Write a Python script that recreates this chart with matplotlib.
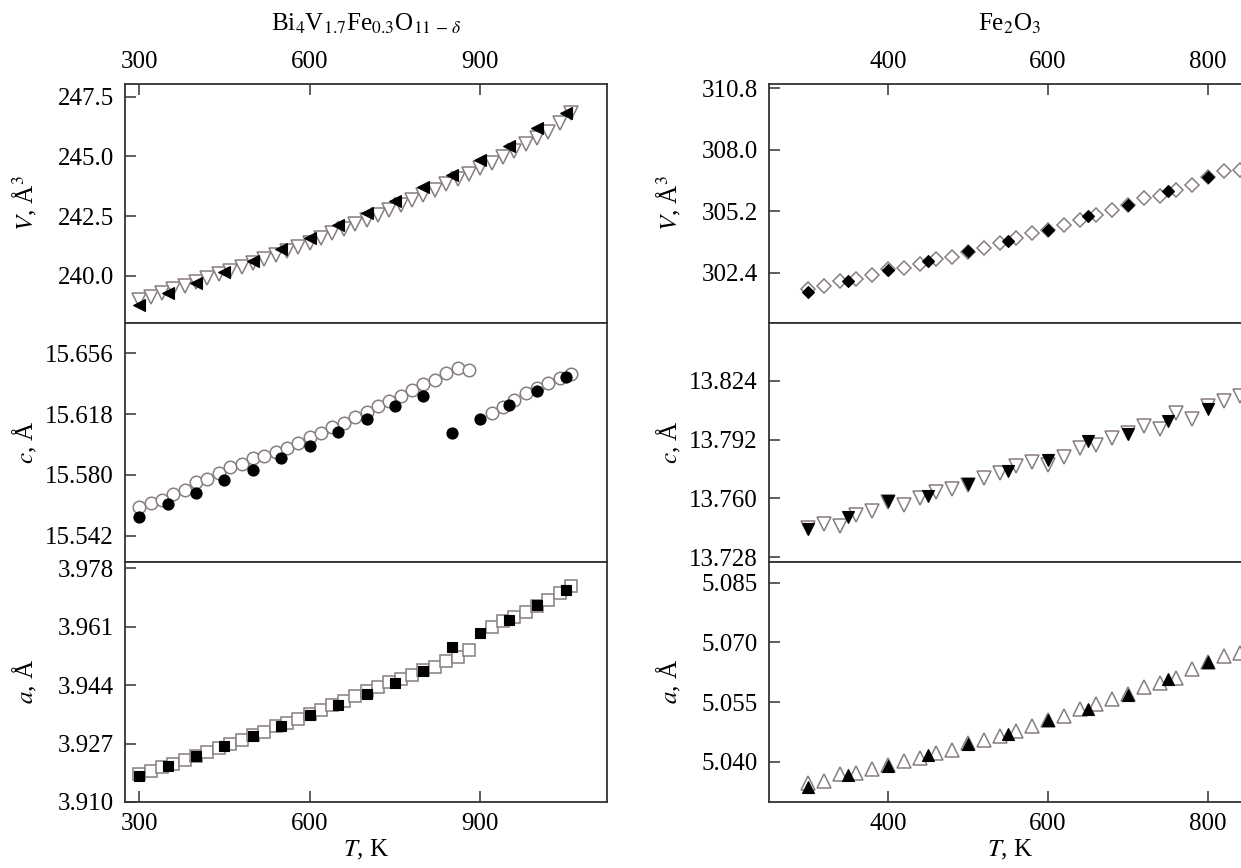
import numpy as np
import matplotlib
matplotlib.use("Agg")
import matplotlib.pyplot as plt

plt.rcParams['font.family'] = ['Liberation Serif', 'DejaVu Serif']
plt.rcParams['mathtext.fontset'] = 'stix'

# ---- Bi4V1.7Fe0.3O11-d (left column) ----
t_bi_fill = [300, 350, 400, 450, 500, 550, 600, 650, 700, 750, 800, 850, 900, 950, 1000, 1050]
t_bi_open_v = [300, 320, 340, 360, 380, 400, 420, 440, 460, 480, 500, 520, 540, 560, 580, 600,
               620, 640, 660, 680, 700, 720, 740, 760, 780, 800, 820, 840, 860, 880, 900, 920,
               940, 960, 980, 1000, 1020, 1040, 1060]
t_bi_open = [300, 320, 340, 360, 380, 400, 420, 440, 460, 480, 500, 520, 540, 560, 580, 600,
             620, 640, 660, 680, 700, 720, 740, 760, 780, 800, 820, 840, 860, 880,
             920, 940, 960, 980, 1000, 1020, 1040, 1060]

v_bi_fill = [238.77, 239.26, 239.71, 240.17, 240.63, 241.10, 241.56, 242.12, 242.61, 243.13,
             243.70, 244.22, 244.85, 245.45, 246.17, 246.80]
v_bi_open = [238.98, 239.12, 239.29, 239.43, 239.58, 239.75, 239.89, 240.06, 240.21, 240.38,
             240.52, 240.68, 240.87, 241.03, 241.22, 241.38, 241.59, 241.77, 241.94, 242.15,
             242.33, 242.54, 242.75, 242.96, 243.17, 243.38, 243.59, 243.83, 244.04, 244.26,
             244.50, 244.73, 244.99, 245.24, 245.50, 245.75, 246.03, 246.40, 246.80]

c_bi_fill = [15.5538, 15.5618, 15.5689, 15.5768, 15.5834, 15.5907, 15.5980, 15.6070, 15.6147,
             15.6231, 15.6295, 15.6064, 15.6149, 15.6237, 15.6327, 15.6410]
c_bi_open = [15.5597, 15.5622, 15.5643, 15.5684, 15.5709, 15.5757, 15.5772, 15.5814, 15.5847,
             15.5868, 15.5903, 15.5918, 15.5945, 15.5966, 15.6001, 15.6035, 15.6060, 15.6097,
             15.6126, 15.6160, 15.6195, 15.6231, 15.6264, 15.6293, 15.6331, 15.6368, 15.6393,
             15.6435, 15.6466, 15.6456,
             15.6185, 15.6226, 15.6268, 15.6310, 15.6341, 15.6372, 15.6404, 15.6431]

a_bi_fill = [3.9177, 3.9206, 3.9233, 3.9262, 3.9293, 3.9322, 3.9352, 3.9383, 3.9414, 3.9446,
             3.9482, 3.9550, 3.9591, 3.9630, 3.9673, 3.9717]
a_bi_open = [3.9180, 3.9189, 3.9202, 3.9211, 3.9223, 3.9235, 3.9244, 3.9257, 3.9270, 3.9281,
             3.9296, 3.9305, 3.9320, 3.9330, 3.9342, 3.9357, 3.9368, 3.9381, 3.9395, 3.9407,
             3.9422, 3.9434, 3.9448, 3.9457, 3.9470, 3.9483, 3.9494, 3.9509, 3.9521, 3.9541,
             3.9610, 3.9625, 3.9638, 3.9654, 3.9669, 3.9688, 3.9707, 3.9727]

# ---- Fe2O3 (right column) ----
t_fe_fill = [300, 350, 400, 450, 500, 550, 600, 650, 700, 750, 800]
t_fe_open = [300, 320, 340, 360, 380, 400, 420, 440, 460, 480, 500, 520, 540, 560, 580, 600,
             620, 640, 660, 680, 700, 720, 740, 760, 780, 800, 820, 840]

v_fe_fill = [301.51, 302.00, 302.51, 302.95, 303.38, 303.84, 304.34, 304.99, 305.46, 306.13, 306.75]
v_fe_open = [301.67, 301.79, 302.00, 302.12, 302.28, 302.55, 302.61, 302.81, 303.01, 303.12,
             303.35, 303.53, 303.73, 303.99, 304.19, 304.36, 304.57, 304.80, 305.03, 305.26,
             305.50, 305.80, 305.90, 306.18, 306.41, 306.75, 307.02, 307.10]

c_fe_fill = [13.7432, 13.7500, 13.7586, 13.7614, 13.7681, 13.7749, 13.7808, 13.7911, 13.7948,
             13.8022, 13.8084]
c_fe_open = [13.7440, 13.7464, 13.7451, 13.7509, 13.7533, 13.7580, 13.7564, 13.7600, 13.7636,
             13.7654, 13.7675, 13.7709, 13.7736, 13.7776, 13.7799, 13.7781, 13.7826, 13.7875,
             13.7890, 13.7926, 13.7955, 13.7993, 13.7980, 13.8062, 13.8029, 13.8102, 13.8129,
             13.8156]

a_fe_fill = [5.0336, 5.0366, 5.0389, 5.0418, 5.0444, 5.0469, 5.0504, 5.0533, 5.0569, 5.0609, 5.0651]
a_fe_open = [5.0347, 5.0351, 5.0370, 5.0372, 5.0381, 5.0391, 5.0402, 5.0410, 5.0423, 5.0429,
             5.0446, 5.0454, 5.0465, 5.0477, 5.0491, 5.0505, 5.0516, 5.0533, 5.0544, 5.0557,
             5.0570, 5.0589, 5.0599, 5.0611, 5.0632, 5.0650, 5.0666, 5.0674]

W, H = 1241, 868
fig = plt.figure(figsize=(W / 100, H / 100), dpi=100)

GRAY = '#877d7d'
SPINE = '#333333'
FS = 18


def make_ax(x0, x1, y0, y1):
    # pixel box -> figure fraction
    return fig.add_axes([x0 / W, 1 - y1 / H, (x1 - x0) / W, (y1 - y0) / H])


def style(ax, xlim, ylim, yticks, yfmt, ylabel, xticks, pos):
    ax.set_xlim(*xlim)
    ax.set_ylim(*ylim)
    ax.set_yticks(yticks)
    ax.set_yticklabels([yfmt % v for v in yticks])
    ax.set_xticks(xticks)
    for s in ax.spines.values():
        s.set_color(SPINE)
        s.set_linewidth(1.3)
    ax.tick_params(axis='both', direction='in', length=8, width=1.1, color=SPINE,
                   labelsize=FS, pad=8, right=False)
    if pos == 'top':
        ax.tick_params(axis='x', top=True, bottom=False, labeltop=True, labelbottom=False)
    elif pos == 'bottom':
        ax.tick_params(axis='x', top=False, bottom=True, labeltop=False, labelbottom=True)
        ax.set_xlabel(r'$T$, K', fontsize=FS, labelpad=2)
    else:
        ax.tick_params(axis='x', top=False, bottom=False, labeltop=False, labelbottom=False)
    ax.set_ylabel(ylabel, fontsize=FS)
    ax.yaxis.set_label_coords(-0.178, 0.5)


def pair(ax, t_open, y_open, m_open, t_fill, y_fill, m_fill, ms):
    ax.plot(t_open, y_open, linestyle='none', marker=m_open, ms=ms, mfc='white',
            mec=GRAY, mew=1.1, clip_on=False)
    ax.plot(t_fill, y_fill, linestyle='none', marker=m_fill, ms=ms - 1, mfc='black',
            mec='black', mew=0.8, clip_on=False)


# left column
LX0, LX1 = 125, 607
lx = (275, 1123)
ax1 = make_ax(LX0, LX1, 84, 323)
ax2 = make_ax(LX0, LX1, 323, 562)
ax3 = make_ax(LX0, LX1, 562, 802)
style(ax1, lx, (238.02, 248.03), [240.0, 242.5, 245.0, 247.5], '%.1f', r'$V$, Å$^3$',
      [300, 600, 900], 'top')
style(ax2, lx, (15.5256, 15.675), [15.542, 15.580, 15.618, 15.656], '%.3f', r'$c$, Å',
      [300, 600, 900], 'mid')
style(ax3, lx, (3.910, 3.9798), [3.910, 3.927, 3.944, 3.961, 3.978], '%.3f', r'$a$, Å',
      [300, 600, 900], 'bottom')
pair(ax1, t_bi_open_v, v_bi_open, 'v', t_bi_fill, v_bi_fill, '<', 10)
pair(ax2, t_bi_open, c_bi_open, 'o', t_bi_fill, c_bi_fill, 'o', 9)
pair(ax3, t_bi_open, a_bi_open, 's', t_bi_fill, a_bi_fill, 's', 8.5)

# right column (runs past the right edge of the picture)
RX0, RX1 = 769, 1251
rx = (251.6, 252.6 + (RX1 - RX0) / 0.8017)
ax4 = make_ax(RX0, RX1, 84, 323)
ax5 = make_ax(RX0, RX1, 323, 562)
ax6 = make_ax(RX0, RX1, 562, 802)
style(ax4, rx, (300.1, 311.0), [302.4, 305.2, 308.0, 310.8], '%.1f', r'$V$, Å$^3$',
      [400, 600, 800], 'top')
style(ax5, rx, (13.7255, 13.8553), [13.728, 13.760, 13.792, 13.824], '%.3f', r'$c$, Å',
      [400, 600, 800], 'mid')
style(ax6, rx, (5.0299, 5.0902), [5.040, 5.055, 5.070, 5.085], '%.3f', r'$a$, Å',
      [400, 600, 800], 'bottom')
pair(ax4, t_fe_open, v_fe_open, 'D', t_fe_fill, v_fe_fill, 'D', 7.5)
pair(ax5, t_fe_open, c_fe_open, 'v', t_fe_fill, c_fe_fill, 'v', 10)
pair(ax6, t_fe_open, a_fe_open, '^', t_fe_fill, a_fe_fill, '^', 10)

fig.text((LX0 + LX1) / 2 / W, 1 - 24 / H, r'Bi$_4$V$_{1.7}$Fe$_{0.3}$O$_{11\,-\,\delta}$',
         ha='center', va='center', fontsize=FS)
fig.text((RX0 + RX1) / 2 / W, 1 - 24 / H, r'Fe$_2$O$_3$', ha='center', va='center', fontsize=FS)

fig.savefig('out.png', dpi=100)
